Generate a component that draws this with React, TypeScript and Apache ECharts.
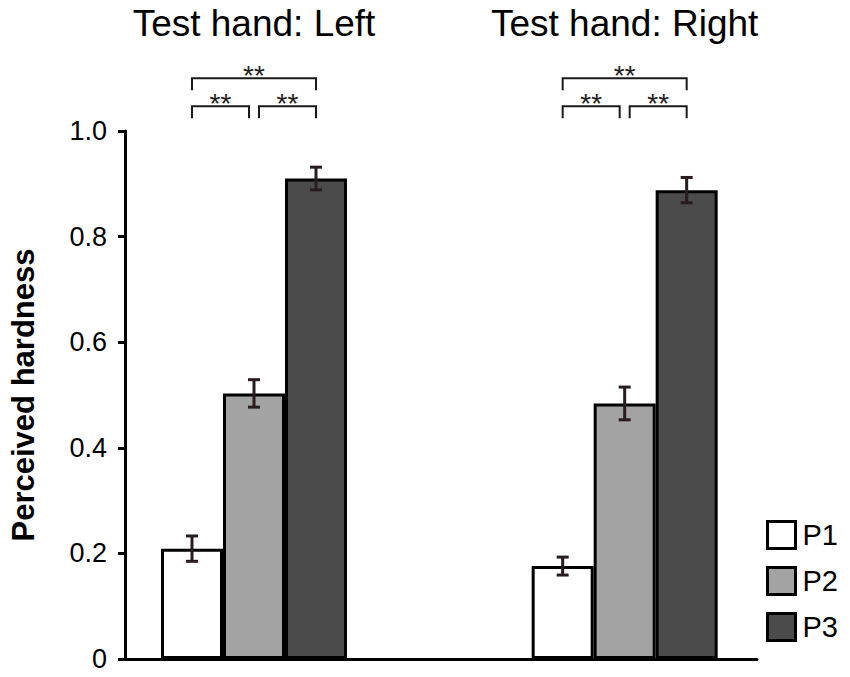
import React, { useEffect, useRef } from "react";
import * as echarts from "echarts";

// ---- data ----
const groupTitles = ["Test hand: Left", "Test hand: Right"];
const groupX = [0, 1];
const seriesNames = ["P1", "P2", "P3"];
const seriesColors = ["#ffffff", "#a3a3a3", "#4b4b4b"];
const p1Means = [0.209, 0.176];
const p2Means = [0.503, 0.484];
const p3Means = [0.91, 0.888];
const p1Errors = [0.024, 0.017];
const p2Errors = [0.026, 0.031];
const p3Errors = [0.0215, 0.024];
const yTickValues = [0, 0.2, 0.4, 0.6, 0.8, 1.0];
// [group, fromBar, toBar, level]
const significancePairs = [
  [0, 0, 1, 0],
  [0, 1, 2, 0],
  [0, 0, 2, 1],
  [1, 0, 1, 0],
  [1, 1, 2, 0],
  [1, 0, 2, 1],
];
const significanceLabels = ["**", "**", "**", "**", "**", "**"];
const bracketLevels = [1.047, 1.1];

// ---- styling ----
const FONT = "'Liberation Sans', Arial, Helvetica, sans-serif";
const BAR_W = 62;
const CAP = 6;
const INNER = 5;
const DROP = 12;

const allMeans = [p1Means, p2Means, p3Means];
const allErrors = [p1Errors, p2Errors, p3Errors];

export default function App() {
  const ref = useRef<HTMLDivElement>(null);

  useEffect(() => {
    document.body.style.margin = "0";
    if (!ref.current) return;
    const chart = echarts.init(ref.current, undefined, { renderer: "svg" });

    const barSeries = seriesNames.map((name, i) => ({
      name,
      type: "bar",
      barWidth: BAR_W,
      barGap: "0%",
      data: groupX.map((x, g) => [x, allMeans[i][g]]),
      itemStyle: { color: seriesColors[i], borderColor: "#000", borderWidth: 3 },
      emphasis: { disabled: true },
      z: 2,
    }));

    const errorData: number[][] = [];
    seriesNames.forEach((_, i) => {
      groupX.forEach((x, g) => {
        errorData.push([x, i, allMeans[i][g], allErrors[i][g]]);
      });
    });

    const errorSeries = {
      name: "err",
      type: "custom",
      clip: false,
      z: 5,
      data: errorData,
      encode: { x: 0, y: 2 },
      renderItem: (params: any, api: any) => {
        const x = api.value(0);
        const idx = api.value(1);
        const m = api.value(2);
        const e = api.value(3);
        const top = api.coord([x, m + e]);
        const bot = api.coord([x, m - e]);
        const cx = top[0] + (idx - 1) * BAR_W;
        const st = { stroke: "#2a1b1c", lineWidth: 3 };
        return {
          type: "group",
          children: [
            { type: "line", shape: { x1: cx, y1: top[1], x2: cx, y2: bot[1] }, style: st },
            { type: "line", shape: { x1: cx - CAP, y1: top[1], x2: cx + CAP, y2: top[1] }, style: st },
            { type: "line", shape: { x1: cx - CAP, y1: bot[1], x2: cx + CAP, y2: bot[1] }, style: st },
          ],
        };
      },
    };

    const sigSeries = {
      name: "sig",
      type: "custom",
      clip: false,
      z: 5,
      data: significancePairs.map((p) => [groupX[p[0]], p[1], p[2], p[3]]),
      encode: { x: 0, y: 3 },
      renderItem: (params: any, api: any) => {
        const x = api.value(0);
        const from = api.value(1);
        const to = api.value(2);
        const lvl = api.value(3);
        const p = api.coord([x, bracketLevels[lvl]]);
        let x1 = p[0] + (from - 1) * BAR_W;
        let x2 = p[0] + (to - 1) * BAR_W;
        if (to - from === 1) {
          if (from === 0) x2 -= INNER;
          else x1 += INNER;
        }
        const y = p[1];
        return {
          type: "group",
          children: [
            {
              type: "polyline",
              shape: { points: [[x1, y + DROP], [x1, y], [x2, y], [x2, y + DROP]] },
              style: { stroke: "#1a1a1a", lineWidth: 2, fill: "none" },
            },
            {
              type: "text",
              x: (x1 + x2) / 2,
              y: y - 3,
              style: {
                text: significanceLabels[params.dataIndex],
                fill: "#222",
                font: `28px ${FONT}`,
                align: "center",
                verticalAlign: "middle",
              },
            },
          ],
        };
      },
    };

    chart.setOption({
      animation: false,
      grid: { left: 121, right: 93, top: 131, bottom: 18, containLabel: false },
      legend: {
        data: seriesNames,
        orient: "vertical",
        left: 766,
        top: 520,
        padding: 0,
        itemWidth: 28,
        itemHeight: 27,
        itemGap: 16,
        icon: "rect",
        selectedMode: false,
        itemStyle: { borderColor: "#000", borderWidth: 3 },
        textStyle: { fontSize: 29, color: "#000", fontFamily: FONT, padding: [0, 0, 0, 2] },
      },
      xAxis: {
        type: "value",
        min: -0.348,
        max: 1.357,
        axisLine: { show: true, onZero: false, lineStyle: { color: "#000", width: 3 } },
        axisTick: { show: false },
        axisLabel: { show: false },
        splitLine: { show: false },
      },
      yAxis: {
        type: "value",
        min: yTickValues[0],
        max: yTickValues[yTickValues.length - 1],
        interval: 0.2,
        name: "Perceived hardness",
        nameLocation: "middle",
        nameRotate: 90,
        nameGap: 86,
        nameTextStyle: { fontSize: 31, fontWeight: "bold", color: "#000", fontFamily: FONT },
        axisLine: { show: true, onZero: false, lineStyle: { color: "#000", width: 3 } },
        axisTick: { show: true, length: 7, lineStyle: { color: "#000", width: 3 } },
        axisLabel: {
          margin: 18,
          fontSize: 27,
          color: "#000",
          fontFamily: FONT,
          formatter: (v: number) => (v === 0 ? "0" : v.toFixed(1)),
        },
        splitLine: { show: false },
      },
      series: [...barSeries, errorSeries, sigSeries],
    });

    const titles = groupTitles.map((t, g) => {
      const px = chart.convertToPixel({ xAxisIndex: 0 }, groupX[g]) as number;
      return {
        text: t,
        left: px,
        top: 5,
        textAlign: "center",
        padding: 0,
        textStyle: { fontSize: 37, fontWeight: "normal", color: "#000", fontFamily: FONT },
      };
    });
    chart.setOption({ title: titles });

    return () => chart.dispose();
  }, []);

  return <div ref={ref} style={{ width: 850, height: 677 }} />;
}
